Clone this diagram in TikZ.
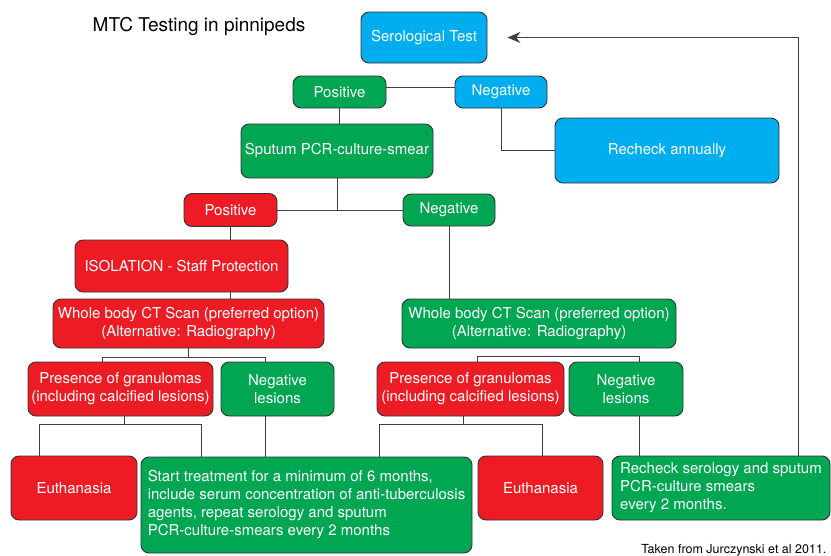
\documentclass[tikz,border=0pt]{standalone}
\usepackage{fontspec}
\setmainfont{TeX Gyre Heros}
\usepackage{xcolor}
\definecolor{colorNegative}{HTML}{00A651}
\definecolor{colorPositive}{HTML}{ED1C24}
\definecolor{colorSerology}{HTML}{00AEEF}
\usetikzlibrary{arrows.meta}
\tikzset{
  box/.style={draw=black!80, line width=0.9pt, rounded corners=8pt, text=white, align=center, inner sep=0pt, font=\fontsize{15}{18}\selectfont},
  greenbox/.style={box, fill=colorNegative},
  redbox/.style={box, fill=colorPositive},
  bluebox/.style={box, fill=colorSerology},
  link/.style={draw=black!75, line width=0.9pt},
}

\begin{document}
\begin{tikzpicture}[x=1pt, y=-1pt, >={Stealth[length=13pt,width=11pt]}]
\useasboundingbox (0,0) rectangle (831,555);
\node[anchor=base, font=\fontsize{19}{22}\selectfont] (title) at (199,31) {MTC Testing in pinnipeds};
\node[bluebox, minimum width=126pt, minimum height=51pt] (sero) at (424,37.5) {Serological Test};
\node[greenbox, minimum width=93pt, minimum height=32pt] (seropos) at (339.5,92) {Positive};
\node[bluebox, minimum width=92pt, minimum height=32pt] (seroneg) at (501,92) {Negative};
\node[greenbox, minimum width=192pt, minimum height=54pt] (sputum) at (337,151) {Sputum PCR-culture-smear};
\node[bluebox, minimum width=224pt, minimum height=65pt] (annual) at (667,150.5) {Recheck annually};
\node[redbox, minimum width=93pt, minimum height=33pt] (sputpos) at (230.5,210) {Positive};
\node[greenbox, minimum width=92pt, minimum height=32pt] (sputneg) at (449,210) {Negative};
\node[redbox, minimum width=213pt, minimum height=52pt] (isolation) at (181.5,266) {ISOLATION - Staff Protection};
\node[redbox, minimum width=271pt, minimum height=49pt] (ctpos) at (188.5,323.5) {Whole body CT Scan (preferred option)\\(Alternative: Radiography)};
\node[greenbox, minimum width=274pt, minimum height=49pt] (ctneg) at (539,323.5) {Whole body CT Scan (preferred option)\\(Alternative: Radiography)};
\node[redbox, minimum width=185pt, minimum height=54pt] (granpos) at (120.5,389) {Presence of granulomas\\(including calcified lesions)};
\node[greenbox, minimum width=113pt, minimum height=54pt] (lespos) at (277.5,389) {Negative\\lesions};
\node[redbox, minimum width=187pt, minimum height=54pt] (granneg) at (470.5,389) {Presence of granulomas\\(including calcified lesions)};
\node[greenbox, minimum width=114pt, minimum height=54pt] (lesneg) at (626,389) {Negative\\lesions};
\node[redbox, minimum width=126pt, minimum height=64pt] (euthpos) at (74,488) {Euthanasia};
\node[greenbox, minimum width=331pt, minimum height=96pt, align=left] (treat) at (306.5,505) {Start treatment for a minimum of 6 months,\\include serum concentration of anti-tuberculosis\\agents, repeat serology and sputum\\PCR-culture-smears every 2 months};
\node[redbox, minimum width=125pt, minimum height=64pt] (euthneg) at (540.5,488) {Euthanasia};
\node[greenbox, minimum width=218pt, minimum height=64pt, align=left] (recheck) at (721,488) {Recheck serology and sputum\\PCR-culture smears\\every 2 months.};
\node[anchor=base east, font=\fontsize{12.5}{14}\selectfont] (source) at (830,553) {Taken from Jurczynski et al 2011.};
\draw[link] ([yshift=5pt]seropos.east) -- ([yshift=5pt]seroneg.west);
\draw[link] (seropos.south) -- (seropos.south |- sputum.north);
\draw[link] (seroneg.south) |- (annual.west);
\draw[link] (sputpos.east) -- (sputneg.west);
\draw[link] (sputum.south) -- (sputum.south |- sputpos.east);
\draw[link] (sputpos.south) -- (sputpos.south |- isolation.north);
\draw[link] (sputpos.south |- isolation.south) -- (sputpos.south |- ctpos.north);
\draw[link] (sputneg.south) -- (sputneg.south |- ctneg.north);
\draw[link] (ctpos.south) -- ++(0,9) coordinate (ctjoin);
\draw[link] ([xshift=-18.5pt]granpos.north) |- (ctjoin) -| ([xshift=-12.5pt]lespos.north);
\draw[link] ([xshift=6.5pt]granneg.north) -- ++(0,-5) -| ([xshift=13pt]lesneg.north);
\draw[link] ([xshift=3.5pt]granpos.south) -- ++(0,8) coordinate (granjoin);
\draw[link] ([xshift=-35pt]euthpos.north) |- (granjoin) -| ([xshift=-105.5pt]treat.north);
\draw[link] ([xshift=-12.5pt]lespos.south) -- ([xshift=-12.5pt]lespos.south |- treat.north);
\draw[link] ([xshift=-7.5pt]granneg.south) -- ++(0,8) coordinate (grannegjoin);
\draw[link] ([xshift=72.5pt]treat.north) |- (grannegjoin) -| ([xshift=1.5pt]euthneg.north);
\draw[link] ([xshift=13pt]lesneg.south) -- ([xshift=13pt]lesneg.south |- recheck.north);
\draw[link, ->] ([xshift=77pt]recheck.north) |- ([xshift=20pt]sero.east);
\end{tikzpicture}
\end{document}
